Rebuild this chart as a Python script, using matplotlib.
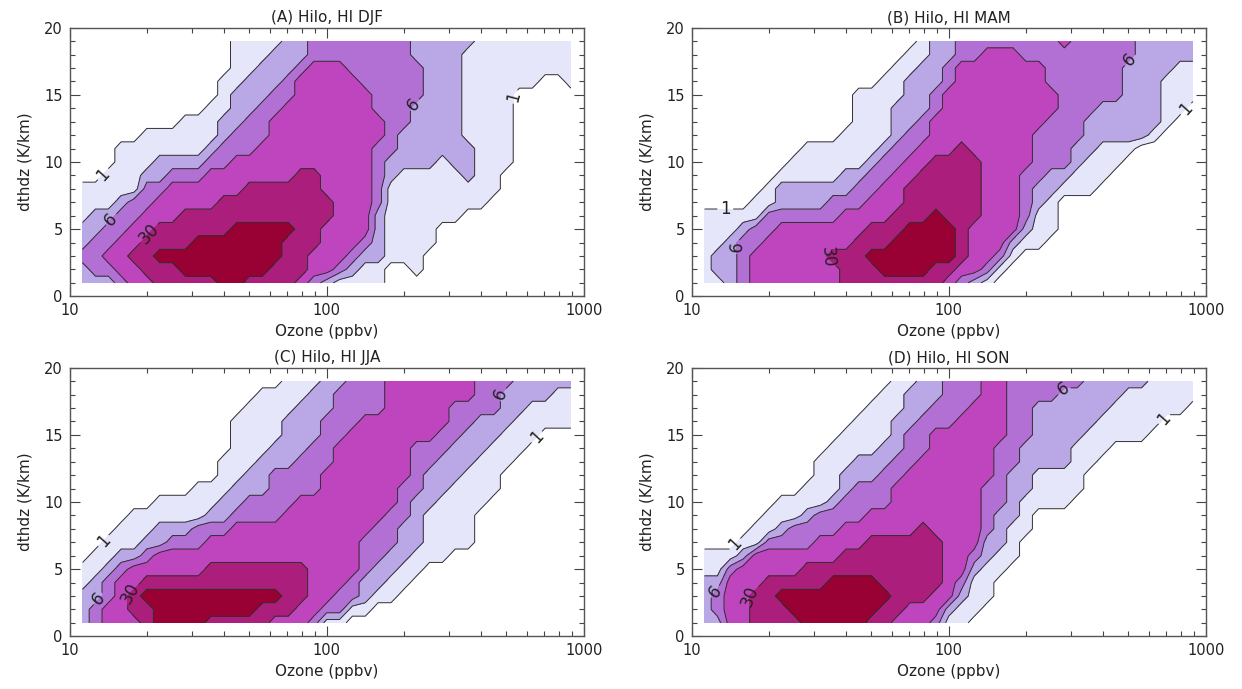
import numpy as np
import matplotlib
matplotlib.use("Agg")
import matplotlib.pyplot as plt
from matplotlib.ticker import FixedLocator, FixedFormatter, LogLocator, NullFormatter, MultipleLocator

# ---------------- data ----------------
panel_titles = ["(A) Hilo, HI DJF", "(B) Hilo, HI MAM", "(C) Hilo, HI JJA", "(D) Hilo, HI SON"]
count_levels = [1, 3, 6, 10, 30, 60]          # contour levels (counts)
labelled_levels = ["1", "6", "30"]            # levels carrying a label
level_colors = ["#E6E6FA", "#BAA7E5", "#B370D4", "#BF45BF", "#AB1E7B", "#990033"]

# bin centres: log10(ozone / ppbv) and dthdz (K/km)
ozone_log_bins = np.round(np.arange(1.05, 2.951, 0.05), 2)
dthdz_bins = np.arange(1, 20)

# level class per bin (0: <1, 1: 1-3, 2: 3-6, 3: 6-10, 4: 10-30, 5: 30-60, 6: >60)
# one string per dthdz row, from 1 K/km (first) to 19 K/km (last)
djf_classes = [
    "222344555556655554321111000000000000000",
    "233445556666666555443211001000000000000",
    "334455666666666655444322111000000000000",
    "233445555666666655544432111100000000000",
    "223344555555666665544442111100000000000",
    "122334445555555555554442111111000000000",
    "111233444445555555554443111111110000000",
    "111113344444455555544443111111111000000",
    "001112233344444445544443211111211000000",
    "000111222233444444444443222212211100000",
    "000111111123334444444443322222211100000",
    "000001111112333444444444322222111100000",
    "000000001112233444444444332222111100000",
    "000000000011223344444443332222111100000",
    "000000000001222334444443333222111100000",
    "000000000001122234444433333222111111001",
    "000000000000112223444333333222111111111",
    "000000000000111222333333332222111111111",
    "000000000000111122333333332222211111111",
]
mam_classes = [
    "112344444445555555543210000000000000000",
    "122344444445556666554431000000000000000",
    "122344444455566666665443100000000000000",
    "112334444444555666665444211000000000000",
    "111233444444455566665444421100000000000",
    "111113333334444555655544431100000000000",
    "000011222233344455555544432100000000000",
    "000001222222334455555544432211100000000",
    "000000111112233445555544433221110000000",
    "000000011111123344555544443332111000000",
    "000000001111112334445444443332211100000",
    "000000000001111233444444443333222221000",
    "000000000000111223444444444333222222100",
    "000000000000111222344444444433322222110",
    "000000000000111122344444444433333222111",
    "000000000000001122234444444333333222111",
    "000000000000000112234444444333333222211",
    "000000000000000011223344433333333322222",
    "000000000000000001223333333343333322222",
]
jja_classes = [
    "234445666655555444311000000000000000000",
    "234455666666665554433110000000000000000",
    "223456666666666655443321100000000000000",
    "123445555555555555444322110000000000000",
    "112344444455555555444432211000000000000",
    "011223444444444444444433221110000000000",
    "001112233344444444444433322111100000000",
    "000111222333444444444443322111100000000",
    "000011111122333344444444332111100000000",
    "000000111112233334444444432211110000000",
    "000000000111222333344444433221111000000",
    "000000000001122333344444443222111000000",
    "000000000001112223334444443322211100000",
    "000000000000111222334444443332221110000",
    "000000000000111122233444444433222111000",
    "000000000000111122233344444443322211111",
    "000000000000011112223333444443333221111",
    "000000000000001111223333444444433222211",
    "000000000000000011122333444444433322222",
]
son_classes = [
    "224455556666655444311000000000000000000",
    "234455566666665544421100000000000000000",
    "234455666666666555442110000000000000000",
    "224445555566665555543110000000000000000",
    "113444445555555555544211000000000000000",
    "111244444445555555544321100000000000000",
    "000113333444455555544422100000000000000",
    "000011233334444445444432110000000000000",
    "000001112333344444444432210000000000000",
    "000000111123333444444433211110000000000",
    "000000001112333444444433221111000000000",
    "000000000112223344444443221111000000000",
    "000000000111222334444443322221100000000",
    "000000000011112233444443322221110000000",
    "000000000001111233444444332222111110000",
    "000000000000111223334444332222211111000",
    "000000000000011122333444332222221111110",
    "000000000000001122233344333322222111111",
    "000000000000000112233344333333222221111",
]
panel_classes = [djf_classes, mam_classes, jja_classes, son_classes]

# approximate label anchor points (ozone ppbv, dthdz)
djf_label_pts = [(12.9, 9.4), (14.5, 5.7), (19.5, 5.0), (214, 14.4), (513, 14.9)]
mam_label_pts = [(13.5, 6.4), (15.1, 3.7), (33.5, 2.9), (513, 17.5), (813, 14.2)]
jja_label_pts = [(13.2, 7.3), (12.6, 3.0), (16.6, 3.4), (479, 18.0), (661, 14.8)]
son_label_pts = [(14.3, 7.1), (12.0, 3.5), (16.6, 3.1), (279, 18.4), (661, 16.5)]
panel_label_pts = [djf_label_pts, mam_label_pts, jja_label_pts, son_label_pts]

# ---------------- figure ----------------
W, H = 1242, 689
fig = plt.figure(figsize=(W / 100, H / 100), dpi=100)

def rect(left_px, top_px, right_px, bottom_px):
    return [left_px / W, 1 - bottom_px / H, (right_px - left_px) / W, (bottom_px - top_px) / H]

axes_rects = [
    rect(69.7, 27.7, 583.7, 296.3),
    rect(691.7, 27.7, 1205.7, 296.3),
    rect(69.7, 367.7, 583.7, 636.3),
    rect(691.7, 367.7, 1205.7, 636.3),
]

text_color = "#222222"
line_color = "#303030"
bounds = np.arange(0.5, len(count_levels) + 1)          # class boundaries
label_fmt = {b: str(lv) for b, lv in zip(bounds, count_levels)}
label_bounds = [b for b, lv in zip(bounds, count_levels) if str(lv) in labelled_levels]
plain_bounds = [b for b, lv in zip(bounds[:-1], count_levels) if str(lv) not in labelled_levels]

X = 10 ** ozone_log_bins
for k in range(4):
    ax = fig.add_axes(axes_rects[k])
    Z = np.array([[int(ch) for ch in row] for row in panel_classes[k]], dtype=float)
    assert Z.shape == (len(dthdz_bins), len(ozone_log_bins)), (k, Z.shape)
    ax.set_xscale("log")
    ax.contourf(X, dthdz_bins, Z, levels=bounds, colors=level_colors)
    ax.contour(X, dthdz_bins, Z, levels=plain_bounds, colors=line_color, linewidths=0.7)
    cs = ax.contour(X, dthdz_bins, Z, levels=label_bounds, colors=line_color, linewidths=0.7)
    ax.clabel(cs, fmt=label_fmt, manual=panel_label_pts[k],
              inline=True, inline_spacing=3, fontsize=12, colors=text_color)
    ax.set_xlim(10, 1000)
    ax.set_ylim(0, 20)

    ax.xaxis.set_major_locator(FixedLocator([10, 100, 1000]))
    ax.xaxis.set_major_formatter(FixedFormatter(["10", "100", "1000"]))
    ax.xaxis.set_minor_locator(LogLocator(base=10, subs=np.arange(2, 10)))
    ax.xaxis.set_minor_formatter(NullFormatter())
    ax.yaxis.set_major_locator(MultipleLocator(5))
    ax.yaxis.set_minor_locator(MultipleLocator(1))
    ax.tick_params(which="both", direction="in", top=True, right=True,
                   colors="#444444", labelcolor=text_color, labelsize=10.5, width=0.8)
    ax.tick_params(which="major", length=7, pad=5)
    ax.tick_params(which="minor", length=3.5)
    for sp in ax.spines.values():
        sp.set_color("#555555")
        sp.set_linewidth(1.0)

    ax.set_title(panel_titles[k], fontsize=11, color=text_color, pad=4)
    ax.set_xlabel("Ozone (ppbv)", fontsize=11, color=text_color, labelpad=4)
    ax.set_ylabel("dthdz (K/km)", fontsize=11, color=text_color, labelpad=8)

fig.savefig("out.png", dpi=100)
